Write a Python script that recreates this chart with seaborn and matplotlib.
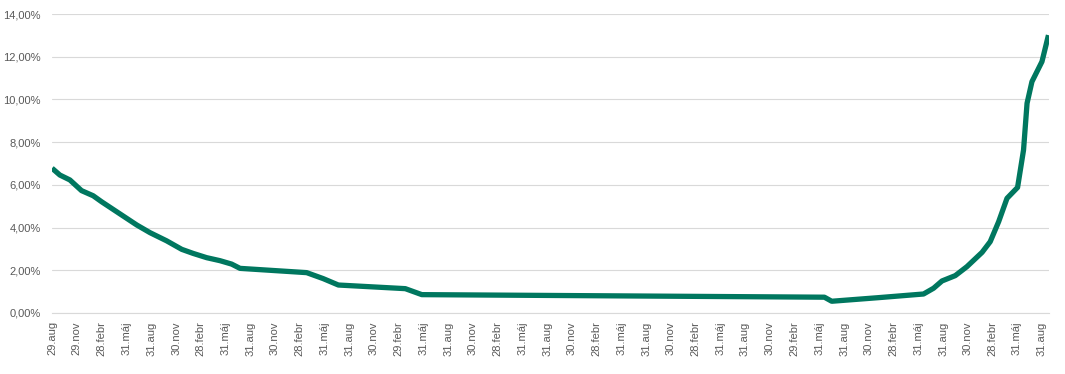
import pandas as pd
import seaborn as sns
import matplotlib
from matplotlib import pyplot as plt
from matplotlib.ticker import FuncFormatter

matplotlib.use("Agg")

# data (rate in %)
dates = [
    "2012-08-29", "2012-09-27", "2012-11-03", "2012-12-16", "2013-01-28",
    "2013-02-28", "2013-04-25", "2013-06-01", "2013-07-08", "2013-08-26",
    "2013-10-26", "2013-12-21", "2014-02-01", "2014-03-23", "2014-05-11",
    "2014-06-23", "2014-07-24", "2015-03-27", "2015-05-27", "2015-07-22",
    "2016-03-25", "2016-05-25", "2020-06-19", "2020-07-16", "2021-01-06",
    "2021-06-20", "2021-07-27", "2021-08-27", "2021-10-15", "2021-11-27",
    "2022-01-22", "2022-02-21", "2022-03-24", "2022-04-24", "2022-06-02",
    "2022-06-24", "2022-07-07", "2022-07-25", "2022-08-31", "2022-09-24",
]
rates = [
    6.78, 6.46, 6.23, 5.73, 5.49,
    5.21, 4.74, 4.43, 4.12, 3.76,
    3.38, 2.98, 2.79, 2.59, 2.45,
    2.29, 2.09, 1.89, 1.61, 1.31,
    1.14, 0.86, 0.74, 0.55, 0.72,
    0.89, 1.16, 1.50, 1.75, 2.17,
    2.84, 3.34, 4.27, 5.37, 5.88,
    7.63, 9.82, 10.83, 11.77, 13.01,
]

tick_labels = [
    "29.aug", "29.nov", "28.febr", "31.máj", "31.aug", "30.nov", "28.febr",
    "31.máj", "31.aug", "30.nov", "28.febr", "31.máj", "31.aug", "30.nov",
    "29.febr", "31.máj", "31.aug", "30.nov", "28.febr", "31.máj", "31.aug",
    "30.nov", "28.febr", "31.máj", "31.aug", "30.nov", "28.febr", "31.máj",
    "31.aug", "30.nov", "29.febr", "31.máj", "31.aug", "30.nov", "28.febr",
    "31.máj", "31.aug", "30.nov", "28.febr", "31.máj", "31.aug",
]

df = pd.DataFrame({"date": pd.to_datetime(dates), "rate": rates})

# quarterly tick dates: first one is the start date, then month ends
tick_dates = [pd.Timestamp("2012-08-29"), pd.Timestamp("2012-11-29")]
tick_dates += list(pd.date_range("2013-02-28", "2022-08-31", freq="3ME"))

sns.set_style("white")
plt.rcParams["font.family"] = ["Liberation Sans", "DejaVu Sans"]

W, H = 1065, 374
fig = plt.figure(figsize=(W / 100, H / 100), dpi=100)
ax = fig.add_axes([52 / W, 1 - 313 / H, (1049 - 52) / W, (313 - 14) / H])

sns.lineplot(data=df, x="date", y="rate", ax=ax, color="#00775F",
             linewidth=3.8, solid_joinstyle="round", solid_capstyle="butt")

ax.set_ylim(0, 14)
ax.set_yticks(range(0, 15, 2))
ax.yaxis.set_major_formatter(FuncFormatter(lambda v, p: f"{v:.2f}%".replace(".", ",")))
ax.set_xlim(pd.Timestamp("2012-08-29"), pd.Timestamp("2022-09-26"))
ax.set_xticks(tick_dates)
ax.set_xticklabels(tick_labels, rotation=90)

ax.grid(axis="y", color="#D9D9D9", linewidth=0.8)
ax.set_axisbelow(True)
for s in ["left", "right", "top"]:
    ax.spines[s].set_visible(False)
ax.spines["bottom"].set_color("#D9D9D9")
ax.spines["bottom"].set_linewidth(0.8)

ax.tick_params(axis="y", length=0, labelsize=8, labelcolor="#595959", pad=8)
ax.tick_params(axis="x", length=4, width=0.8, color="#D9D9D9", direction="out",
               labelsize=8, labelcolor="#595959", pad=2)
ax.set_xlabel("")
ax.set_ylabel("")

# clipped tick marks of a neighbouring chart (bottom edge and right edge)
edge_b = fig.add_axes([63.3 / W, 0, 64.2 * 15 / W, 8 / H])
edge_b.set_xlim(0, 15)
edge_b.set_xticks(range(16))
edge_b.set_yticks([])
edge_b.tick_params(axis="x", direction="in", length=5.5, width=0.8,
                   color="#D0D0D0", labelbottom=False)
for s in edge_b.spines.values():
    s.set_visible(False)
edge_b.patch.set_alpha(0)

edge_r = fig.add_axes([1063 / W, 0, 2 / W, (H - 14) / H])
edge_r.set_ylim(18, 0)
edge_r.set_yticks(range(19))
edge_r.set_xticks([])
edge_r.tick_params(axis="y", direction="in", length=1.5, width=0.8,
                   color="#C8C8C8", labelleft=False)
for s in edge_r.spines.values():
    s.set_visible(False)
edge_r.patch.set_alpha(0)

plt.savefig("out.png", dpi=100)
